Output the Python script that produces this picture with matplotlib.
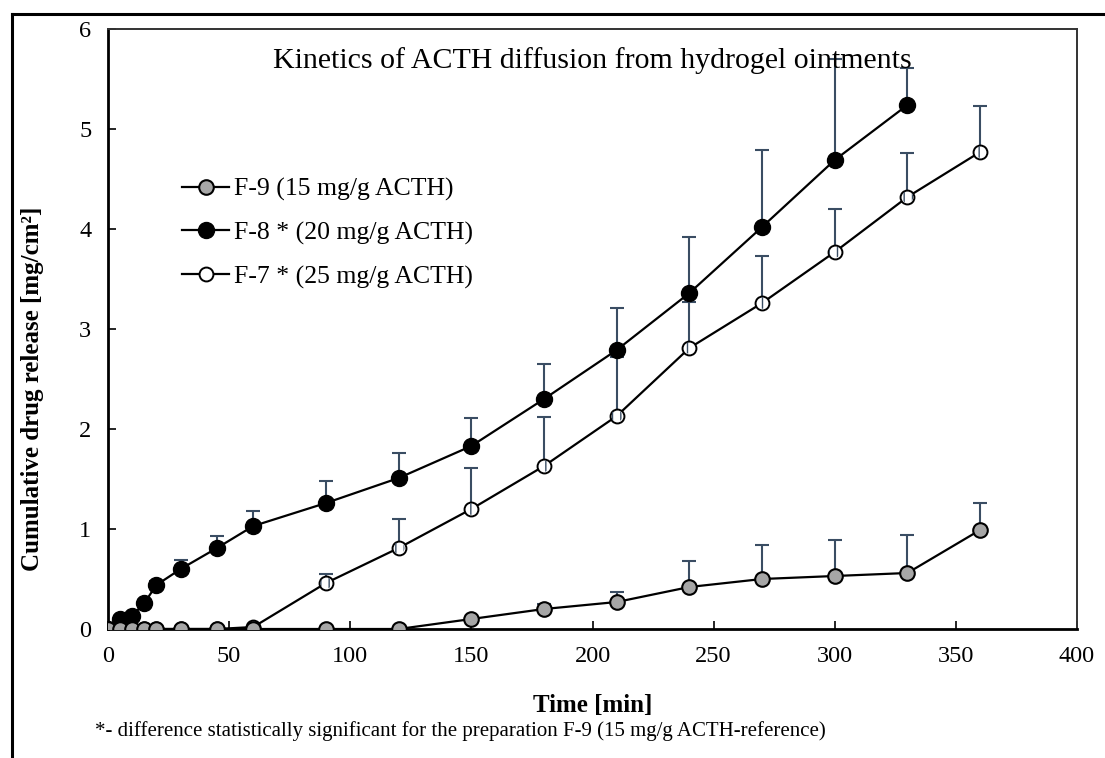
import matplotlib.pyplot as plt
from matplotlib.lines import Line2D
import numpy as np

plt.rcParams['font.family'] = ['Liberation Serif', 'DejaVu Serif']

t9 = [0, 5, 10, 15, 20, 30, 45, 60, 90, 120, 150, 180, 210, 240, 270, 300, 330, 360]
f9 = [0, 0, 0, 0, 0, 0, 0, 0, 0, 0, 0.10, 0.20, 0.27, 0.42, 0.50, 0.53, 0.56, 0.99]
e9 = [0, 0, 0, 0, 0, 0, 0, 0, 0, 0, 0.0, 0.05, 0.10, 0.26, 0.34, 0.36, 0.38, 0.27]

t8 = [0, 5, 10, 15, 20, 30, 45, 60, 90, 120, 150, 180, 210, 240, 270, 300, 330]
f8 = [0, 0.10, 0.13, 0.26, 0.44, 0.60, 0.81, 1.03, 1.26, 1.51, 1.83, 2.30, 2.79, 3.36, 4.02, 4.69, 5.24]
e8 = [0, 0.02, 0.03, 0.03, 0.04, 0.09, 0.12, 0.15, 0.22, 0.25, 0.28, 0.35, 0.42, 0.56, 0.77, 1.01, 0.37]

t7 = [0, 5, 10, 15, 20, 30, 45, 60, 90, 120, 150, 180, 210, 240, 270, 300, 330, 360]
f7 = [0, 0, 0, 0, 0, 0, 0, 0.02, 0.46, 0.81, 1.20, 1.63, 2.13, 2.81, 3.26, 3.77, 4.32, 4.77]
e7 = [0, 0, 0, 0, 0, 0, 0, 0, 0.09, 0.29, 0.41, 0.49, 0.59, 0.46, 0.47, 0.43, 0.44, 0.46]

labels = ["F-9 (15 mg/g ACTH)", "F-8 * (20 mg/g ACTH)", "F-7 * (25 mg/g ACTH)"]
ecol = '#3a4d63'

fig = plt.figure(figsize=(11.05, 7.58), dpi=100)
ax = fig.add_axes([108 / 1105, 1 - 629 / 758, (1077 - 108) / 1105, (629 - 29) / 758])

# outer frame (left and top visible only)
fig.add_artist(Line2D([12 / 1105, 12 / 1105], [0, 1 - 14 / 758], color='black', lw=2.2,
                      transform=fig.transFigure))
fig.add_artist(Line2D([12 / 1105, 1], [1 - 14 / 758, 1 - 14 / 758], color='black', lw=2.2,
                      transform=fig.transFigure))

# error bars (upper only)
for t, f, e in [(t7, f7, e7), (t8, f8, e8), (t9, f9, e9)]:
    ax.errorbar(t, f, yerr=[np.zeros(len(e)), e], fmt='none', ecolor=ecol, elinewidth=1.5,
                capsize=5, capthick=1.5, zorder=2)

l7, = ax.plot(t7, f7, color='black', lw=1.6, marker='o', markersize=10,
              mfc='white', mec='black', mew=1.4, zorder=3)
ax.scatter(t7, f7, s=70, facecolor='none', edgecolor=ecol, hatch='||', linewidth=0, zorder=3.5)
l8, = ax.plot(t8, f8, color='black', lw=1.6, marker='o', markersize=11.5,
              mfc='black', mec='black', zorder=4)
l9, = ax.plot(t9, f9, color='black', lw=1.6, marker='o', markersize=10.5,
              mfc='#a6a6a6', mec='black', mew=1.5, zorder=5)

ax.set_xlim(0, 400)
ax.set_ylim(0, 6)
ax.set_xticks(np.arange(0, 401, 50))
ax.set_yticks(np.arange(0, 7, 1))
ax.tick_params(direction='in', length=6, width=1.2, labelsize=17.5)
ax.tick_params(axis='x', pad=12)
ax.tick_params(axis='y', pad=12)
for s in ['left', 'bottom']:
    ax.spines[s].set_linewidth(2.0)
for s in ['top', 'right']:
    ax.spines[s].set_linewidth(1.4)
    ax.spines[s].set_color('#333333')

ax.text(0.5, 0.948, "Kinetics of ACTH diffusion from hydrogel ointments", transform=ax.transAxes,
        ha='center', va='center', fontsize=21.5)
ax.set_xlabel("Time [min]", fontsize=18, fontweight='bold')
ax.xaxis.set_label_coords(0.5, -0.108)
ax.set_ylabel("Cumulative drug release [mg/cm²]", fontsize=18, fontweight='bold')
ax.yaxis.set_label_coords(-0.066, 0.4)

ax.legend([l9, l8, l7], labels, loc='upper left', bbox_to_anchor=(0.053, 0.791), frameon=False,
          fontsize=18.5, handlelength=1.8, labelspacing=0.8, handletextpad=0.2)

fig.text(95 / 1105, 1 - 731 / 758, "*- difference statistically significant for the preparation F-9 (15 mg/g ACTH-reference)",
         ha='left', va='center', fontsize=15)

fig.savefig("out.png", dpi=100)
